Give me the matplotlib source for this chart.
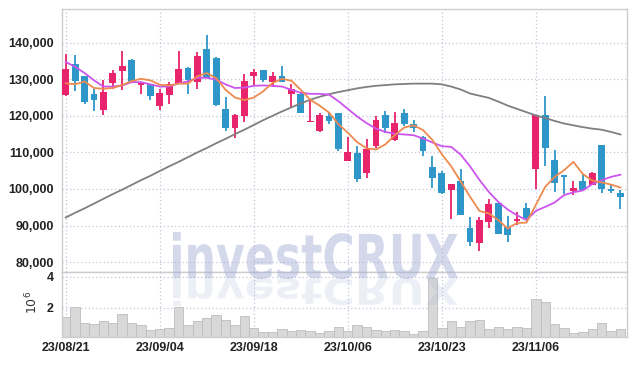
import matplotlib.pyplot as plt
import numpy as np
from matplotlib.textpath import TextPath
from matplotlib.patches import PathPatch
from matplotlib.font_manager import FontProperties
from matplotlib.transforms import Affine2D

# 시세 데이터 (원)
opens = [125800, 134100, 130800, 126000, 121600, 129000, 132300, 135200, 128500, 128800,
         122800, 125800, 128600, 133200, 129200, 138400, 135800, 121800, 116800, 120000,
         130800, 132600, 129200, 130800, 126000, 126000, 118200, 115900, 120000, 120900,
         107600, 109700, 104500, 111700, 120200, 113400, 120800, 117700, 114300, 106000,
         104300, 99700, 102200, 89400, 85100, 91000, 96300, 89500, 91200, 94700,
         105400, 120200, 107800, 103800, 99500, 102200, 101000, 111900, 100100, 98900]
highs = [136800, 136500, 130800, 127400, 129700, 132400, 137800, 135600, 129200, 128800,
         127400, 129300, 137800, 133400, 137500, 142100, 136000, 125100, 120600, 131500,
         132900, 132600, 132000, 133600, 128600, 126500, 124200, 120900, 120900, 120900,
         114300, 111700, 113700, 120000, 121400, 121100, 121900, 118900, 114500, 109000,
         104800, 101300, 105400, 92300, 92300, 97300, 96300, 92500, 93600, 96100,
         120200, 125300, 110600, 103900, 102200, 104100, 104700, 111900, 101200, 99700]
lows = [125500, 126900, 123200, 121400, 120300, 127400, 127100, 129200, 126000, 124300,
        121600, 123200, 128600, 126000, 127400, 130400, 122800, 115900, 113800, 118200,
        128300, 129200, 127800, 129200, 122500, 120800, 118200, 115700, 117700, 110500,
        107600, 101800, 103000, 111300, 115400, 113100, 117200, 115600, 109000, 100400,
        98600, 91800, 93000, 84500, 83100, 89200, 87700, 85600, 90100, 91400,
        100100, 106400, 99200, 98700, 98400, 99500, 101000, 99000, 98800, 94400]
closes = [132900, 129500, 123700, 124300, 126400, 131800, 133500, 129200, 129200, 125500,
          126300, 128600, 132900, 129900, 136300, 130400, 123000, 116800, 120200, 129500,
          132000, 129900, 130800, 129200, 127400, 120800, 118600, 120300, 118600, 110800,
          110100, 102700, 110800, 118900, 116800, 118000, 117700, 116800, 110300, 103000,
          98900, 101300, 93000, 85400, 91400, 96000, 87700, 87300, 91800, 92100,
          120200, 111300, 101500, 103200, 100400, 99600, 104400, 100000, 99400, 97800]
volumes = [1.40, 2.05, 1.01, 0.95, 1.14, 1.01, 1.59, 1.01, 0.88, 0.56,
           0.63, 0.69, 2.05, 0.88, 1.14, 1.34, 1.53, 1.21, 0.88, 1.46,
           0.69, 0.43, 0.43, 0.63, 0.50, 0.56, 0.50, 0.37, 0.52, 0.75,
           0.52, 0.88, 0.75, 0.56, 0.52, 0.56, 0.50, 0.30, 0.50, 3.91,
           0.69, 1.14, 0.75, 1.14, 1.21, 0.63, 0.75, 0.63, 0.75, 0.69,
           2.56, 2.37, 0.95, 0.69, 0.37, 0.43, 0.63, 1.01, 0.50, 0.63]

# 이동평균선 (그림에서 읽은 값, 천원)
ma5 = [128.9, 128.6, 129.4, 127.6, 127.4, 127.6, 128.4, 129.5, 130.1, 129.7,
       128.5, 128.3, 128.8, 128.8, 130.8, 131.7, 130.3, 127.1, 125.0, 124.3,
       125.0, 126.7, 129.0, 130.1, 129.6, 127.1, 124.4, 122.8, 120.9, 117.7,
       115.4, 112.8, 111.1, 110.8, 112.2, 114.7, 116.8, 117.4, 116.1, 113.4,
       109.5, 106.2, 102.1, 97.9, 94.0, 93.3, 91.5, 89.2, 90.7, 90.8,
       95.6, 100.6, 103.3, 105.1, 107.4, 104.1, 102.3, 101.8, 101.2, 100.4]
ma10 = [134.7, 133.4, 131.7, 129.7, 128.0, 128.0, 128.3, 129.2, 129.2, 128.6,
        128.0, 128.0, 128.9, 129.4, 130.4, 130.4, 129.9, 128.6, 127.6, 127.7,
        128.2, 128.3, 128.2, 128.0, 127.1, 126.3, 126.0, 126.0, 125.8, 124.0,
        121.9, 119.8, 118.0, 116.5, 115.6, 115.1, 114.9, 114.7, 113.8, 112.7,
        111.7, 111.5, 109.4, 106.2, 102.5, 99.2, 96.5, 94.4, 92.8, 91.5,
        94.0, 95.1, 96.3, 98.3, 99.1, 99.6, 101.3, 102.4, 103.3, 103.9]
ma60 = [92.2, 93.5, 94.7, 96.0, 97.3, 98.6, 99.8, 101.1, 102.4, 103.6,
        104.9, 106.2, 107.4, 108.7, 110.0, 111.2, 112.5, 113.7, 115.0, 116.2,
        117.5, 118.8, 120.0, 121.2, 122.3, 123.4, 124.4, 125.2, 125.9, 126.5,
        127.0, 127.5, 127.9, 128.2, 128.4, 128.6, 128.7, 128.8, 128.8, 128.8,
        128.6, 128.0, 127.2, 126.1, 125.5, 124.9, 123.9, 122.8, 121.9, 121.0,
        120.1, 119.4, 118.6, 117.9, 117.4, 116.9, 116.5, 116.2, 115.6, 114.9]

tick_idx = [0, 10, 20, 30, 40, 50]
tick_labels = ['23/08/21', '23/09/04', '23/09/18', '23/10/06', '23/10/23', '23/11/06']
price_ticks = [80000, 90000, 100000, 110000, 120000, 130000, 140000]

plt.rcParams['font.family'] = ['Liberation Sans', 'DejaVu Sans']

fig = plt.figure(figsize=(6.35, 3.66), dpi=100)
ax = fig.add_axes([62 / 635, 1 - 272 / 366, 565 / 635, 263 / 366])
axv = fig.add_axes([62 / 635, 1 - 337 / 366, 565 / 635, 65 / 366], sharex=ax)

x = np.arange(len(closes))
o = np.array(opens); c = np.array(closes)
up = c >= o
colors = np.where(up, '#e8246c', '#2e96c9')

ax.vlines(x, lows, highs, colors=colors, linewidth=1.3, zorder=3)
body_h = np.maximum(np.abs(c - o), 250)
ax.bar(x, body_h, bottom=np.minimum(o, c), width=0.72, color=colors, zorder=4)

ax.plot(x, np.array(ma60) * 1000, color='#7f7f7f', lw=1.3, zorder=5)
ax.plot(x, np.array(ma10) * 1000, color='#cc55ee', lw=1.3, zorder=5)
ax.plot(x, np.array(ma5) * 1000, color='#ef8a4f', lw=1.3, zorder=5)

ax.set_xlim(-0.4, 59.7)
ax.set_ylim(77300, 149200)
ax.set_yticks(price_ticks)
ax.set_yticklabels(['{:,}'.format(p) for p in price_ticks], fontweight='bold')
ax.set_xticks(tick_idx)
ax.tick_params(axis='x', labelbottom=False, length=0)
ax.tick_params(axis='y', length=0, pad=6, labelsize=9, labelcolor='#222222')
ax.grid(True, color='#c4c4dc', linestyle=(0, (1, 2)), linewidth=0.9)

axv.bar(x, np.array(volumes) * 1e6, width=1.0, color='#d8d8d8', edgecolor='#bdbdbd', linewidth=0.6)
axv.set_ylim(0.13e6, 4.32e6)
axv.set_yticks([2e6, 4e6])
axv.set_yticklabels(['2', '4'], fontweight='bold')
axv.set_xticks(tick_idx)
axv.set_xticklabels(tick_labels, fontweight='bold')
axv.tick_params(length=0, labelsize=9, labelcolor='#222222')
axv.tick_params(axis='y', pad=6)
axv.grid(True, color='#c4c4dc', linestyle=(0, (1, 2)), linewidth=0.9)

for a in (ax, axv):
    a.set_axisbelow(True)
    for s in a.spines.values():
        s.set_color('#cccccc')
        s.set_linewidth(1.0)

fig.text(32 / 635, 1 - 302 / 366, r'$10^6$', rotation=90, ha='center', va='center',
         fontsize=9, color='#333333')

# 워터마크
fp = FontProperties(family='DejaVu Sans', weight='bold')
tp = TextPath((0, 0), 'investCRUX', size=10, prop=fp)
ext = tp.get_extents()
H = 366


def mark(x0, x1, top, bot, alpha, flip=False):
    sx = (x1 - x0) / ext.width
    sy = (bot - top) / ext.height
    if flip:
        tr = Affine2D().translate(-ext.x0, -ext.y0).scale(sx, -sy).translate(x0, H - top)
    else:
        tr = Affine2D().translate(-ext.x0, -ext.y0).scale(sx, sy).translate(x0, H - bot)
    fig.add_artist(PathPatch(tp, transform=tr, facecolor='#a9b2d8', edgecolor='none',
                             alpha=alpha, zorder=10))


mark(173, 458, 232, 279, 0.5)
mark(173, 458, 278, 306, 0.2, flip=True)

fig.savefig('out.png', dpi=100)
